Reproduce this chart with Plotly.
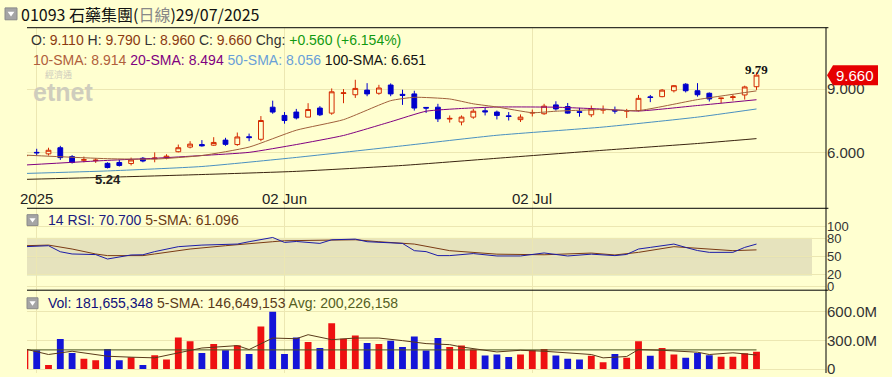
import plotly.graph_objects as go

# ---------------- data ----------------
idx = list(range(63))
opens = [5.83, 6.00, 5.93, 6.22, 5.80, 5.63, 5.61, 5.48, 5.52, 5.47,
         5.72, 5.70, 5.74, 6.03, 6.25, 6.37, 6.34, 6.58, 6.37, 6.74,
         6.62, 8.14, 7.75, 7.91, 7.67, 8.10, 7.86, 8.79, 8.73, 8.95,
         8.80, 9.19, 8.75, 8.77, 8.13, 8.14, 7.58, 7.44, 7.67, 7.97,
         7.91, 7.73, 7.55, 7.86, 7.83, 8.25, 8.17, 7.93, 7.78, 8.00,
         7.99, 7.95, 7.98, 8.63, 8.64, 8.92, 9.23, 8.92, 8.80, 8.55,
         8.60, 8.72, 9.11]
highs = [5.90, 6.17, 6.22, 6.31, 5.87, 5.80, 5.72, 5.53, 5.64, 5.75,
         5.78, 6.00, 5.91, 6.37, 6.53, 6.58, 6.72, 6.69, 6.94, 6.89,
         7.72, 8.45, 7.91, 8.06, 8.33, 8.19, 9.03, 9.00, 9.44, 9.28,
         9.20, 9.27, 8.97, 8.92, 8.14, 8.30, 7.75, 7.75, 8.06, 8.14,
         7.98, 7.91, 7.80, 8.03, 8.30, 8.42, 8.34, 8.11, 8.22, 8.22,
         8.17, 8.06, 8.72, 8.72, 9.00, 9.19, 9.28, 9.28, 8.84, 8.58,
         8.73, 9.16, 9.79]
lows = [5.80, 5.85, 5.85, 5.64, 5.47, 5.53, 5.50, 5.24, 5.33, 5.38,
        5.53, 5.53, 5.67, 6.00, 6.19, 6.27, 6.31, 6.31, 6.31, 6.53,
        6.53, 7.83, 7.36, 7.56, 7.67, 7.72, 7.78, 8.33, 8.58, 8.66,
        8.73, 8.66, 8.25, 7.98, 7.87, 7.44, 7.41, 7.28, 7.59, 7.75,
        7.56, 7.51, 7.44, 7.70, 7.78, 7.98, 7.83, 7.69, 7.67, 7.83,
        7.83, 7.63, 7.94, 8.38, 8.61, 8.84, 8.84, 8.64, 8.41, 8.33,
        8.45, 8.50, 8.96]
closes = [5.85, 5.98, 6.10, 5.75, 5.52, 5.65, 5.63, 5.28, 5.38, 5.64,
          5.59, 5.73, 5.82, 6.22, 6.39, 6.31, 6.47, 6.38, 6.73, 6.70,
          7.51, 7.91, 7.51, 7.63, 8.03, 7.78, 8.87, 8.82, 9.03, 8.77,
          9.05, 8.77, 8.70, 8.10, 8.10, 7.59, 7.61, 7.67, 7.95, 7.92,
          7.75, 7.70, 7.67, 7.89, 8.19, 8.06, 7.86, 7.89, 8.06, 8.03,
          7.96, 7.98, 8.56, 8.60, 8.95, 9.16, 8.92, 8.73, 8.53, 8.57,
          8.63, 9.10, 9.66]
volumes_m = [210, 197, 41, 314, 169, 107, 93, 210, 93, 124,
             41, 145, 100, 331, 290, 169, 262, 197, 248, 158,
             445, 600, 158, 331, 283, 221, 479, 317, 352, 272,
             262, 297, 231, 341, 193, 324, 230, 245, 204, 141,
             152, 127, 152, 197, 210, 141, 107, 100, 138, 72,
             158, 117, 290, 138, 221, 152, 117, 169, 145, 128,
             128, 165, 181.66]

sma10_x = [0, 7, 11, 15, 19, 23, 27, 31, 33, 36, 38, 40, 43, 45, 49, 52, 57, 62]
sma10_y = [5.87, 5.70, 5.68, 5.85, 6.25, 7.05, 7.55, 8.45, 8.61, 8.53, 8.30, 8.15,
           7.88, 7.95, 8.03, 7.98, 8.50, 8.914]
sma20_x = [0, 7, 11, 15, 19, 23, 27, 31, 34, 37, 40, 45, 49, 52, 57, 62]
sma20_y = [5.40, 5.62, 5.72, 5.85, 6.00, 6.37, 6.80, 7.45, 7.95, 8.08, 8.15, 8.14,
           8.05, 7.96, 8.22, 8.494]
sma50_x = [0, 7, 15, 23, 32, 40, 49, 57, 62]
sma50_y = [5.00, 5.12, 5.33, 5.76, 6.31, 6.81, 7.20, 7.67, 8.056]
sma100_x = [0, 7, 15, 23, 32, 40, 49, 57, 62]
sma100_y = [4.72, 4.82, 4.95, 5.10, 5.38, 5.72, 6.10, 6.42, 6.651]

rsi_x = [0, 2, 3, 4, 6, 7, 9, 10, 11, 13, 15, 18, 19, 21, 22, 23, 25, 26, 28, 29,
         32, 33, 34, 35, 36, 38, 40, 42, 44, 46, 48, 50, 51, 52, 53, 55, 56, 57,
         58, 60, 61, 62]
rsi_y = [66.4, 68, 58, 54.3, 53.3, 46, 52.7, 53, 58.2, 66.4, 69, 70.7, 74.6, 81.6,
         73.4, 75, 71.8, 77.8, 78.9, 74.6, 71.8, 59.8, 58.2, 51.6, 51.6, 55, 51, 51,
         56, 51, 54, 51.6, 53.5, 62.5, 65.2, 70.7, 65.2, 60, 57, 57, 65.2, 70.7]
rsi_sma_x = [0, 2, 4, 6, 7, 10, 11, 14, 17, 19, 21, 22, 26, 28, 30, 33, 36, 40,
             44, 48, 50, 52, 55, 57, 60, 62]
rsi_sma_y = [68, 69, 62.5, 54.3, 51.6, 51.6, 54.3, 62.5, 68, 70.7, 74.6, 76.2, 77.8,
             77.8, 74.6, 70.7, 59.8, 54, 53, 55.8, 52.7, 57, 66.4, 63.6, 59.8, 61.096]

vol_sma_x = [0, 2, 4, 6, 7, 9, 11, 13, 15, 18, 19, 21, 23, 24, 26, 28, 30, 32, 34,
             36, 37, 40, 42, 44, 48, 49, 51, 52, 54, 57, 58, 60, 62]
vol_sma_y = [210, 152, 186, 152, 134, 124, 117, 169, 220, 245, 204, 324, 317, 359,
             307, 324, 324, 297, 266, 255, 231, 179, 196, 186, 152, 117, 131, 204,
             196, 176, 152, 170, 146.65]
vol_avg = 200.226

tick_idx = [1, 22, 43]
tick_text = ["2025", "02 Jun", "02 Jul"]
price_ticks = [6.0, 9.0]
rsi_ticks = [0, 20, 50, 80, 100]
rsi_levels = [20, 50, 80]
vol_ticks = [0, 300, 600]
vol_tick_text = ["0", "300.0M", "600.0M"]

# ---------------- style ----------------
BG = "#FFFFD0"
GRID = "#ECE7B2"
RED = "#D42A00"
BLUE = "#0000CC"
FONT = "Liberation Sans, Arial, sans-serif"
CJK = "Noto Sans CJK TC, Liberation Sans, sans-serif"

# panel boundaries (paper fraction)
MAIN_D = [0.4416, 0.9257]
RSI_D = [0.2220, 0.4416]
VOL_D = [0.0, 0.2220]

fig = go.Figure()

fig.add_trace(go.Candlestick(
    x=idx, open=opens, high=highs, low=lows, close=closes,
    increasing=dict(line=dict(color=RED, width=1), fillcolor=BG),
    decreasing=dict(line=dict(color=BLUE, width=1), fillcolor=BLUE),
    whiskerwidth=0, hoverinfo="skip", xaxis="x", yaxis="y", showlegend=False))

for xs, ys, col in [(sma100_x, sma100_y, "#3A2410"), (sma50_x, sma50_y, "#4A90C0"),
                    (sma20_x, sma20_y, "#800080"), (sma10_x, sma10_y, "#A0603C")]:
    fig.add_trace(go.Scatter(x=xs, y=ys, mode="lines",
                             line=dict(color=col, width=1, shape="spline", smoothing=0.5),
                             hoverinfo="skip", showlegend=False, xaxis="x", yaxis="y"))

fig.add_trace(go.Scatter(x=rsi_sma_x, y=rsi_sma_y, mode="lines",
                         line=dict(color="#7A3A14", width=1),
                         hoverinfo="skip", showlegend=False, xaxis="x", yaxis="y2"))
fig.add_trace(go.Scatter(x=rsi_x, y=rsi_y, mode="lines",
                         line=dict(color="#1C1CA8", width=1),
                         hoverinfo="skip", showlegend=False, xaxis="x", yaxis="y2"))

vol_colors = ["#EE1111" if c >= o else "#1414D8" for o, c in zip(opens, closes)]
fig.add_trace(go.Bar(x=idx, y=volumes_m, marker=dict(color=vol_colors, line=dict(width=0)),
                     width=0.58, hoverinfo="skip", showlegend=False, xaxis="x", yaxis="y3"))
fig.add_trace(go.Scatter(x=[idx[0], idx[-1]], y=[vol_avg, vol_avg], mode="lines",
                         line=dict(color="#4B5320", width=1),
                         hoverinfo="skip", showlegend=False, xaxis="x", yaxis="y3"))
fig.add_trace(go.Scatter(x=vol_sma_x, y=vol_sma_y, mode="lines",
                         line=dict(color="#5A3A1A", width=1),
                         hoverinfo="skip", showlegend=False, xaxis="x", yaxis="y3"))

shapes = []
# RSI band and levels
shapes.append(dict(type="rect", xref="paper", yref="y2", x0=0, x1=0.9825, y0=20, y1=80,
                   fillcolor="#E6E3BD", line=dict(width=0), layer="below"))
for lv in rsi_levels:
    shapes.append(dict(type="line", xref="paper", yref="y2", x0=0, x1=0.9825, y0=lv, y1=lv,
                       line=dict(color="#9FB0A8", width=1), layer="below"))
# panel separators
for yy in [MAIN_D[1], RSI_D[1], VOL_D[1]]:
    shapes.append(dict(type="line", xref="paper", yref="paper", x0=0, x1=1.003, y0=yy, y1=yy,
                       line=dict(color="#000000", width=1)))
# right axis line
shapes.append(dict(type="line", xref="paper", yref="paper", x0=1, x1=1, y0=0, y1=MAIN_D[1],
                   line=dict(color="#000000", width=1)))
# price tag
shapes.append(dict(type="path", xref="paper", yref="y", xsizemode="pixel", ysizemode="pixel",
                   xanchor=1, yanchor=closes[-1],
                   path="M 1,0 L 7,10 L 52,10 L 52,-10 L 7,-10 Z",
                   fillcolor="#E60000", line=dict(width=0)))
# checkbox icons
def icon(px0, py0, size=11):
    x0 = (px0 - 27) / 799.0
    x1 = (px0 + size - 27) / 799.0
    y1 = (377 - py0) / 377.0
    y0 = (377 - py0 - size) / 377.0
    shapes.append(dict(type="rect", xref="paper", yref="paper", x0=x0, x1=x1, y0=y0, y1=y1,
                       fillcolor="#A5A5A5", line=dict(color="#8A8A8A", width=1)))
    cx = (x0 + x1) / 2
    shapes.append(dict(type="path", xref="paper", yref="paper",
                       path=f"M {x0 + (x1-x0)*0.22},{y0 + (y1-y0)*0.68} L {x1 - (x1-x0)*0.22},{y0 + (y1-y0)*0.68} L {cx},{y0 + (y1-y0)*0.28} Z",
                       fillcolor="#FFFFFF", line=dict(width=0)))
icon(5, 8, 12)
icon(27, 217, 11)
icon(27, 301, 11)

ann = []
def pa(px):
    return (px - 27) / 799.0
def pb(py):
    return (377 - py) / 377.0

ann.append(dict(xref="paper", yref="paper", x=pa(19), y=pb(14), xanchor="left", yanchor="middle",
                showarrow=False, font=dict(family=CJK, size=16, color="#111"),
                text="01093 石藥集團(<span style='color:#888'>日線</span>)29/07/2025"))
DK = "#333333"
VC = "#8B3A10"
ann.append(dict(xref="paper", yref="paper", x=pa(29), y=pb(40), xanchor="left", yanchor="middle",
                showarrow=False, font=dict(family=FONT, size=14, color=DK),
                text=(f"O: <span style='color:{VC}'>9.110</span> H: <span style='color:{VC}'>9.790</span> "
                      f"L: <span style='color:{VC}'>8.960</span> C: <span style='color:{VC}'>9.660</span> "
                      f"Chg: <span style='color:#119911'>+0.560 (+6.154%)</span>")))
ann.append(dict(xref="paper", yref="paper", x=pa(31), y=pb(61), xanchor="left", yanchor="middle",
                showarrow=False, font=dict(family=FONT, size=14, color=DK),
                text=("<span style='color:#B0603C'>10-SMA: 8.914</span> "
                      "<span style='color:#800080'>20-SMA: 8.494</span> "
                      "<span style='color:#6A9FD8'>50-SMA: 8.056</span> "
                      "<span style='color:#111111'>100-SMA: 6.651</span>")))
ann.append(dict(xref="paper", yref="paper", x=pa(46), y=pb(222), xanchor="left", yanchor="middle",
                showarrow=False, font=dict(family=FONT, size=14, color="#1C1C80"),
                text="14 RSI: 70.700 <span style='color:#6A3A14'>5-SMA: 61.096</span>"))
ann.append(dict(xref="paper", yref="paper", x=pa(46), y=pb(306), xanchor="left", yanchor="middle",
                showarrow=False, font=dict(family=FONT, size=14, color="#10107A"),
                text=("Vol: 181,655,348 <span style='color:#5A3A1A'>5-SMA: 146,649,153</span> "
                      "<span style='color:#55601F'>Avg: 200,226,158</span>")))
# watermark
ann.append(dict(xref="paper", yref="paper", x=pa(63), y=pb(93), xanchor="center", yanchor="middle",
                showarrow=False, font=dict(family=FONT, size=25, color="#CFCDBD"), text="<b>etnet</b>"))
ann.append(dict(xref="paper", yref="paper", x=pa(58), y=pb(75), xanchor="center", yanchor="middle",
                showarrow=False, font=dict(family=CJK, size=9, color="#CFCDBD"), text="經濟通"))
# x tick labels inside main panel
for ti, tt in zip(tick_idx, tick_text):
    ann.append(dict(xref="x", yref="paper", x=ti, y=MAIN_D[0], xanchor="center", yanchor="bottom",
                    yshift=-1, showarrow=False, font=dict(family=FONT, size=15, color="#222"), text=tt))
# high / low labels
hi_i = max(idx, key=lambda i: highs[i])
lo_i = min(idx, key=lambda i: lows[i])
ann.append(dict(xref="x", yref="y", x=hi_i, y=highs[hi_i], xanchor="center", yanchor="middle",
                yshift=3, showarrow=False,
                font=dict(family="Liberation Serif, serif", size=13, color="#111"),
                text=f"<b>{highs[hi_i]:.2f}</b>"))
ann.append(dict(xref="x", yref="y", x=lo_i, y=lows[lo_i], xanchor="center", yanchor="top",
                yshift=-2, showarrow=False,
                font=dict(family=FONT, size=13, color="#222"),
                text=f"<b>{lows[lo_i]:.2f}</b>"))
# price tag text
ann.append(dict(xref="paper", yref="y", x=1, y=closes[-1], xanchor="left", yanchor="middle",
                xshift=8, showarrow=False, font=dict(family=FONT, size=15, color="#FFFFFF"),
                text=f"{closes[-1]:.3f}"))

fig.update_layout(
    width=892, height=377,
    margin=dict(l=27, r=66, t=0, b=0),
    paper_bgcolor=BG, plot_bgcolor=BG,
    showlegend=False, boxgap=0.42, bargap=0.4,
    shapes=shapes, annotations=ann,
    xaxis=dict(range=[0.178, 67.89], tickvals=tick_idx, showticklabels=False, ticks="",
               showgrid=True, gridcolor=GRID, gridwidth=1, zeroline=False, showline=False,
               rangeslider=dict(visible=False), anchor="y", fixedrange=True),
    yaxis=dict(domain=MAIN_D, range=[3.35, 11.907], side="right", tickvals=price_ticks,
               tickformat=".3f", showgrid=True, gridcolor=GRID, zeroline=False,
               showline=False, ticks="", tickfont=dict(family=FONT, size=15, color="#333"),
               anchor="x"),
    yaxis2=dict(domain=RSI_D, range=[-5.6, 129.9], side="right", tickvals=rsi_ticks,
                showgrid=True, gridcolor=GRID, zeroline=False, showline=False, ticks="",
                ticklabeloverflow="allow",
                tickfont=dict(family=FONT, size=13, color="#333"), anchor="x"),
    yaxis3=dict(domain=VOL_D, range=[-41.4, 824.5], side="right", tickvals=vol_ticks,
                ticktext=vol_tick_text, showgrid=True, gridcolor=GRID, zeroline=False,
                showline=False, ticks="", ticklabeloverflow="allow",
                tickfont=dict(family=FONT, size=15, color="#333"), anchor="x"),
)

fig.write_html("out.html", config={"displayModeBar": False},
               post_script="document.body.style.margin='0';document.body.style.overflow='hidden';")
